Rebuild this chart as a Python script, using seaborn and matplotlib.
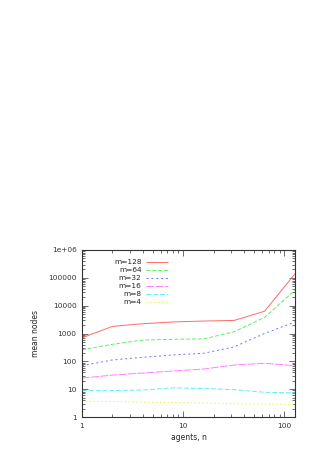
import numpy as np
import pandas as pd
import matplotlib
matplotlib.use("Agg")
import matplotlib.pyplot as plt
import seaborn as sns

agents = [1, 2, 4, 8, 16, 32, 64, 128]
m128 = [700, 1800, 2250, 2600, 2800, 2950, 6300, 140000]
m64 = [260, 410, 580, 620, 640, 1150, 3800, 36000]
m32 = [70, 112, 140, 170, 195, 330, 1000, 2600]
m16 = [25, 32, 38, 45, 53, 74, 85, 70]
m8 = [8.9, 8.9, 9.3, 11.2, 10.5, 9.6, 7.7, 7.4]
m4 = [3.7, 3.6, 3.4, 3.3, 3.2, 3.0, 2.9, 2.8]
series_names = ["m=128", "m=64", "m=32", "m=16", "m=8", "m=4"]
series_vals = [m128, m64, m32, m16, m8, m4]
colors = ["#ff6a6a", "#5ef05e", "#7070ff", "#ff80ff", "#60f0f0", "#f0f050"]
dashes = [(1, 0), (4, 2), (2, 3), (8, 1.5), (5, 2), (1.5, 2.5)]
yticks = [1, 10, 100, 1000, 10000, 100000, 1000000]
yticklabels = ["1", "10", "100", "1000", "10000", "100000", "1e+06"]
xticks = [1, 10, 100]
xticklabels = ["1", "10", "100"]

rows = []
for name, vals in zip(series_names, series_vals):
    for a, v in zip(agents, vals):
        rows.append({"agents": a, "nodes": v, "m": name})
df = pd.DataFrame(rows)

sns.set_style("ticks")
plt.rcParams["font.family"] = ["DejaVu Sans"]
fig = plt.figure(figsize=(3.31, 4.68), dpi=100)
ax = fig.add_axes([82/331, 51/468, 213/331, 167/468])

sns.lineplot(data=df, x="agents", y="nodes", hue="m", style="m",
             hue_order=series_names, style_order=series_names,
             palette=dict(zip(series_names, colors)),
             dashes=dict(zip(series_names, dashes)),
             linewidth=0.7, ax=ax, legend=False)

ax.set_xscale("log")
ax.set_yscale("log")
ax.set_xlim(1, 128)
ax.set_ylim(1, 1e6)
ax.set_yticks(yticks)
ax.set_yticklabels(yticklabels)
ax.set_xticks(xticks)
ax.set_xticklabels(xticklabels)
ax.tick_params(which="both", direction="in", top=True, right=True,
               labelsize=5.3, width=0.5, pad=4, colors="#333333")
ax.tick_params(which="major", length=4)
ax.tick_params(which="minor", length=2)
for s in ax.spines.values():
    s.set_linewidth(0.8)
    s.set_color("#333333")
ax.set_xlabel("agents, n", fontsize=5.5, labelpad=3)
ax.set_ylabel("mean nodes", fontsize=5.5, labelpad=6)

handles = list(ax.get_lines())[:len(series_names)]
leg = ax.legend(handles, series_names, loc="upper right",
                bbox_to_anchor=(0.404, 0.945), frameon=False,
                markerfirst=False, fontsize=5.3, handlelength=3.0,
                handletextpad=0.6, labelspacing=0.25, borderaxespad=0,
                borderpad=0)

fig.savefig("out.png", dpi=100, facecolor="white")
